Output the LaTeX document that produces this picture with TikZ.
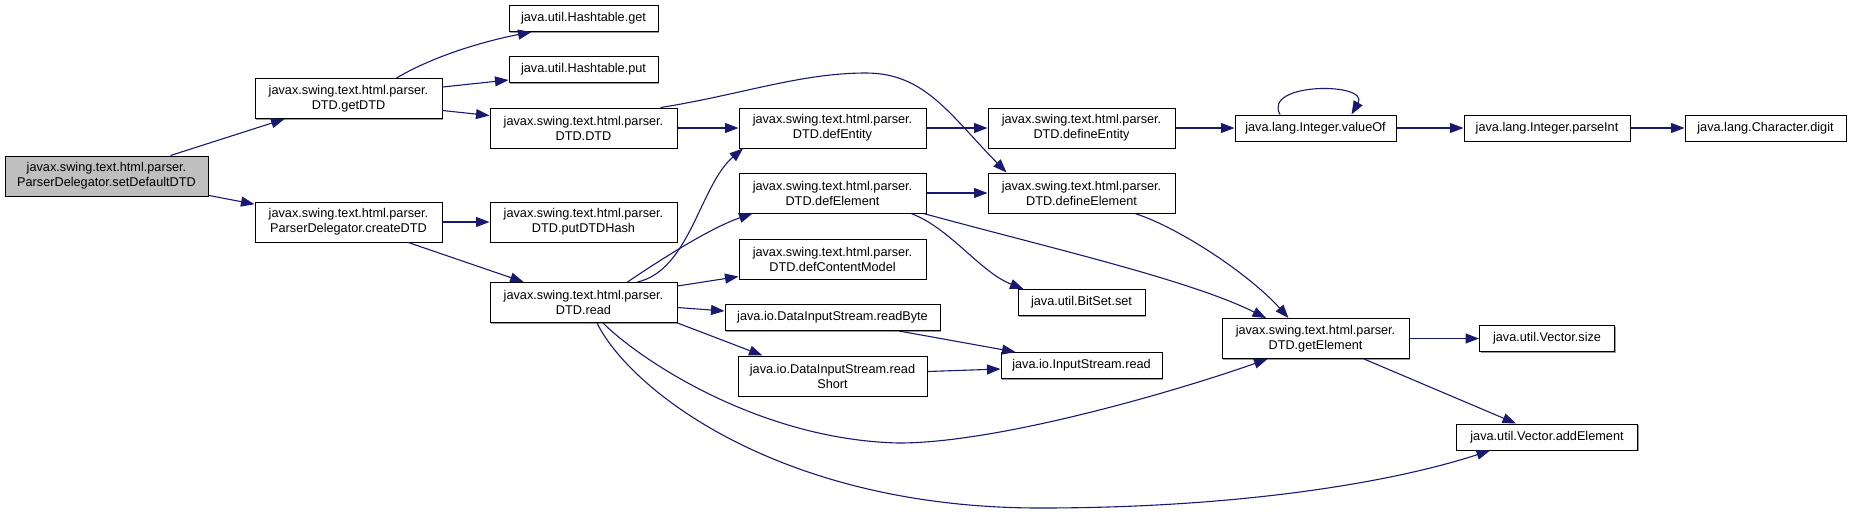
\documentclass[tikz,border=0pt]{standalone}
\usepackage{fontspec}
\setmainfont{Liberation Sans}
\usetikzlibrary{arrows.meta,shadows}
\definecolor{midnight}{HTML}{191970}
\begin{document}
\begin{tikzpicture}[x=1pt,y=-1pt,
  box/.style={draw=black, fill=white, line width=1pt, inner sep=0pt, align=center,
    font=\fontsize{12.7}{15}\selectfont,
    drop shadow={shadow xshift=1pt,shadow yshift=-1pt,fill=black!40,opacity=1}},
  two/.style={box, minimum width=187pt, minimum height=40pt},
  one/.style={box, minimum height=26pt, minimum width=#1},
  call/.style={draw=midnight, line width=1.1pt, -{Triangle[length=13.5pt,width=10pt]}},
]
\useasboundingbox (0,0) rectangle (1851,515);

% nodes
\node[two, fill=gray!50, minimum width=203pt] (root) at (106.5,176) {javax.swing.text.html.parser.\\ParserDelegator.setDefaultDTD};
\node[two] (getDTD) at (348.5,98.5) {javax.swing.text.html.parser.\\DTD.getDTD};
\node[two] (createDTD) at (348.5,222) {javax.swing.text.html.parser.\\ParserDelegator.createDTD};
\node[one=149pt] (hget) at (583.5,18.5) {java.util.Hashtable.get};
\node[one=149pt] (hput) at (583.5,69.5) {java.util.Hashtable.put};
\node[two] (dtd) at (583.5,128) {javax.swing.text.html.parser.\\DTD.DTD};
\node[two] (putHash) at (583.5,222) {javax.swing.text.html.parser.\\DTD.putDTDHash};
\node[two] (read) at (583.5,302.5) {javax.swing.text.html.parser.\\DTD.read};
\node[two] (defEntity) at (832.5,128) {javax.swing.text.html.parser.\\DTD.defEntity};
\node[two] (defElement) at (832.5,193) {javax.swing.text.html.parser.\\DTD.defElement};
\node[two] (defCM) at (832.5,259) {javax.swing.text.html.parser.\\DTD.defContentModel};
\node[one=215pt] (readByte) at (832.5,317.5) {java.io.DataInputStream.readByte};
\node[two, minimum width=189pt] (readShort) at (832.5,376) {java.io.DataInputStream.read\\Short};
\node[two] (defineEntity) at (1081.5,128) {javax.swing.text.html.parser.\\DTD.defineEntity};
\node[two] (defineElement) at (1081.5,193) {javax.swing.text.html.parser.\\DTD.defineElement};
\node[one=127pt] (bitset) at (1081.5,302.5) {java.util.BitSet.set};
\node[one=161pt] (isread) at (1081.5,365.5) {java.io.InputStream.read};
\node[one=161pt] (valueOf) at (1315.5,128) {java.lang.Integer.valueOf};
\node[two] (getElement) at (1315.5,338.5) {javax.swing.text.html.parser.\\DTD.getElement};
\node[one=166pt] (parseInt) at (1547,128) {java.lang.Integer.parseInt};
\node[one=135pt] (vsize) at (1547,338.5) {java.util.Vector.size};
\node[one=181pt] (addElement) at (1547,437) {java.util.Vector.addElement};
\node[one=161pt] (digit) at (1765.5,128) {java.lang.Character.digit};

% edges
\draw[call] (root) -- (getDTD);
\draw[call] (root) -- (createDTD);
\draw[call] ([xshift=48pt]getDTD.north) .. controls (437,54) and (490,40) .. ([xshift=-52pt]hget.south);
\draw[call] ([yshift=11.5pt]getDTD.east) -- ([yshift=-10.5pt]hput.west);
\draw[call] ([yshift=-12pt]getDTD.east) -- ([yshift=12.5pt]dtd.west);
\draw[call] (dtd) -- (defEntity);
\draw[call] ([xshift=77pt]dtd.north) .. controls (740,95) and (800,73) .. (866,73)
  .. controls (925,73) and (950,115) .. ([xshift=-75pt]defineElement.north);
\draw[call] (defEntity) -- (defineEntity);
\draw[call] (defineEntity) -- (valueOf);
\draw[call] ([xshift=-35.5pt]valueOf.north) .. controls (1262,82) and (1370,82) .. ([xshift=36pt]valueOf.north);
\draw[call] (valueOf) -- (parseInt);
\draw[call] (parseInt) -- (digit);
\draw[call] (createDTD) -- (putHash);
\draw[call] (createDTD) -- (read);
\draw[call] ([xshift=54pt]read.north) .. controls (690,270) and (700,185) .. ([xshift=-89.5pt]defEntity.south);
\draw[call] ([xshift=44pt]read.north) .. controls (660,260) and (710,228) .. ([xshift=-80pt]defElement.south);
\draw[call] ([yshift=16.5pt]read.east) -- ([yshift=-17.5pt]defCM.west);
\draw[call] ([yshift=-5pt]read.east) -- ([yshift=6.5pt]readByte.west);
\draw[call] (read.south east) -- ([xshift=-70pt]readShort.north);
\draw[call] ([xshift=19.5pt]read.south) .. controls (640,360) and (760,440) .. (899,443)
  .. controls (1000,443) and (1180,390) .. ([xshift=-48pt]getElement.south);
\draw[call] ([xshift=13.5pt]read.south) .. controls (630,390) and (780,508) .. (1040,508)
  .. controls (1250,508) and (1400,480) .. ([xshift=-57pt]addElement.south);
\draw[call] ([xshift=66.5pt]readByte.south) -- ([xshift=-66pt]isread.north);
\draw[call] ([yshift=4.5pt]readShort.east) -- ([yshift=-3.5pt]isread.west);
\draw[call] (defElement) -- (defineElement);
\draw[call] ([xshift=78.5pt]defElement.south) .. controls (950,228) and (980,272) .. ([xshift=-58pt]bitset.north);
\draw[call] ([xshift=91pt]defElement.south) .. controls (1050,248) and (1190,280) .. ([xshift=-49.5pt]getElement.north);
\draw[call] ([xshift=53.5pt]defineElement.south) .. controls (1180,228) and (1250,275) .. ([xshift=-27pt]getElement.north);
\draw[call] (getElement) -- (vsize);
\draw[call] ([xshift=48.5pt]getElement.south) -- ([xshift=-31pt]addElement.north);
\end{tikzpicture}
\end{document}
